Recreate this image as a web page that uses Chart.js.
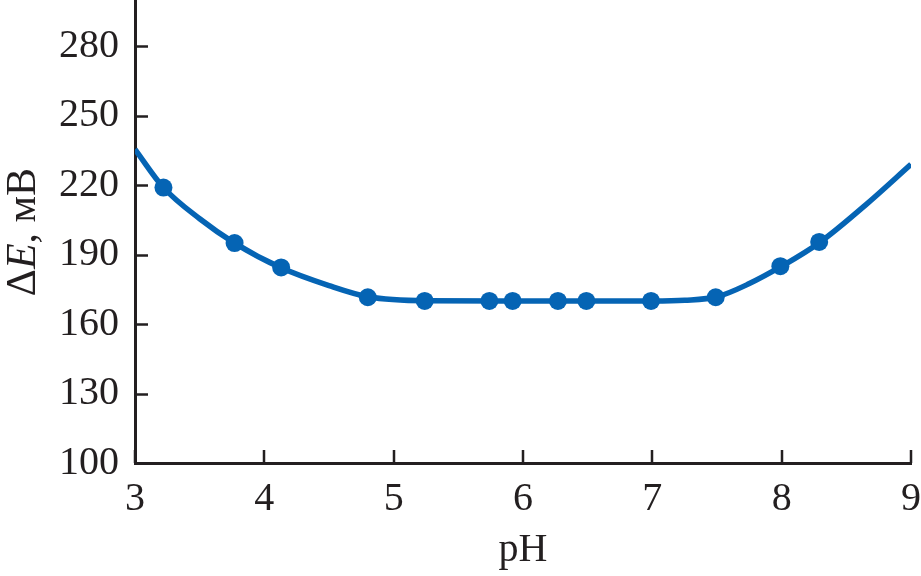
<!DOCTYPE html>
<html>
<head>
<meta charset="utf-8">
<script src="https://cdn.jsdelivr.net/npm/chart.js@4"></script>
<style>
  html, body { margin: 0; padding: 0; background: #fff; }
  #wrap { width: 921px; height: 576px; }
</style>
</head>
<body>
<div id="wrap"><canvas id="myChart" width="921" height="576"></canvas></div>
<script>
// measured points
const phValues = [3.22, 3.77, 4.13, 4.8, 5.24, 5.74, 5.92, 6.27, 6.49, 6.99, 7.49, 7.99, 8.29];
const deltaE = [219, 195, 184.5, 171.6, 170, 170, 170, 170, 170, 170, 171.6, 185, 195.5];

// fitted curve
const curvePh = [3.0, 3.22, 3.5, 3.77, 4.13, 4.5, 4.8, 5.25, 6.0, 7.0, 7.25, 7.5, 7.75, 8.0, 8.3, 8.65, 9.0];
const curveE = [235.5, 219, 205.5, 195, 184.3, 176.6, 171.8, 170.1, 170, 170, 170.3, 171.8, 177.5, 185, 195.5, 211.5, 229];

const yTicks = [100, 130, 160, 190, 220, 250, 280];
const xTicks = [3, 4, 5, 6, 7, 8, 9];

const blue = '#0564b4';
const ink = '#231f20';
const serif = '"Liberation Serif", "Times New Roman", serif';

const pts = phValues.map((x, i) => ({ x: x, y: deltaE[i] }));
const curve = curvePh.map((x, i) => ({ x: x, y: curveE[i] }));

// inward tick marks + y title with italic E
const extras = {
  id: 'extras',
  afterDraw(chart) {
    const ctx = chart.ctx;
    const xs = chart.scales.x, ys = chart.scales.y;
    const area = chart.chartArea;
    ctx.save();
    ctx.strokeStyle = ink;
    ctx.lineWidth = 2.5;
    ctx.beginPath();
    yTicks.forEach(v => {
      const py = Math.round(ys.getPixelForValue(v)) + 0.5;
      ctx.moveTo(area.left, py);
      ctx.lineTo(area.left + 13, py);
    });
    xTicks.forEach(v => {
      const px = Math.round(xs.getPixelForValue(v));
      ctx.moveTo(px, area.bottom);
      ctx.lineTo(px, area.bottom - 13);
    });
    ctx.stroke();

    const parts = [['Δ', ''], ['E', 'italic '], [', мВ', '']];
    let total = 0;
    parts.forEach(p => {
      ctx.font = p[1] + '42px ' + serif;
      total += ctx.measureText(p[0]).width;
    });
    ctx.translate(24, 232);
    ctx.rotate(-Math.PI / 2);
    ctx.fillStyle = ink;
    ctx.textBaseline = 'middle';
    let x = -total / 2;
    parts.forEach(p => {
      ctx.font = p[1] + '42px ' + serif;
      ctx.fillText(p[0], x, 0);
      x += ctx.measureText(p[0]).width;
    });
    ctx.restore();
  }
};

const canvas = document.getElementById('myChart');
const ctx = canvas.getContext('2d');

const chart = new Chart(ctx, {
  type: 'scatter',
  data: {
    datasets: [{
      label: 'curve',
      data: curve,
      showLine: true,
      borderColor: blue,
      borderWidth: 5.5,
      pointRadius: 0,
      cubicInterpolationMode: 'monotone',
      order: 2
    }, {
      label: 'points',
      data: pts,
      showLine: false,
      backgroundColor: blue,
      borderColor: blue,
      pointRadius: 9,
      borderWidth: 0,
      order: 1
    }]
  },
  options: {
    responsive: false,
    animation: false,
    layout: { autoPadding: false, padding: { top: 0, right: 10, bottom: 0, left: 0 } },
    plugins: {
      legend: { display: false },
      tooltip: { enabled: false }
    },
    scales: {
      x: {
        type: 'linear',
        min: 3,
        max: 9,
        afterBuildTicks: s => { s.ticks = xTicks.map(v => ({ value: v })); },
        afterFit: s => { s.height = 113; s.paddingLeft = 0; s.paddingRight = 0; },
        grid: { display: false, drawTicks: false },
        border: { display: true, color: ink, width: 3 },
        ticks: {
          color: ink,
          padding: 12,
          font: { family: serif, size: 40 }
        },
        title: {
          display: true,
          text: 'pH',
          color: ink,
          font: { family: serif, size: 40 },
          padding: { top: 0, bottom: 2 }
        }
      },
      y: {
        type: 'linear',
        min: 100,
        max: 300,
        afterBuildTicks: s => { s.ticks = yTicks.map(v => ({ value: v })); },
        afterFit: s => { s.width = 135; s.paddingTop = 0; s.paddingBottom = 0; },
        grid: { display: false, drawTicks: false },
        border: { display: true, color: ink, width: 3 },
        ticks: {
          color: ink,
          padding: 16,
          font: { family: serif, size: 40 }
        }
      }
    }
  },
  plugins: [extras]
});
</script>
</body>
</html>
